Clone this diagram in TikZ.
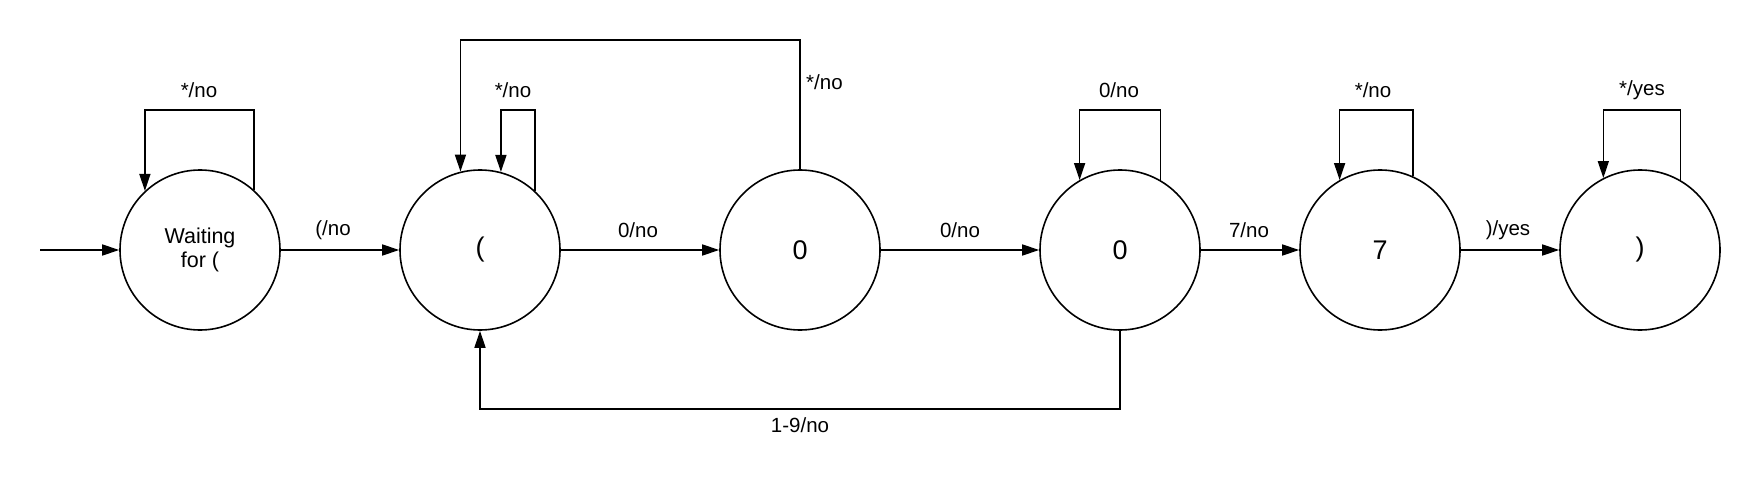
\documentclass[tikz,border=0pt]{standalone}
\usepackage{fontspec}
\setmainfont{Liberation Sans}
\usetikzlibrary{arrows.meta}
\begin{document}
\begin{tikzpicture}[x=1pt,y=-1pt,
  state/.style={circle,draw,line width=1.6pt,minimum size=160pt,inner sep=0pt,font=\fontsize{27}{30}\selectfont},
  wstate/.style={state,font=\fontsize{21.5}{24}\selectfont,align=center},
  arr/.style={line width=1.6pt,-{Triangle[length=17pt,width=11pt]}},
  lbl/.style={inner sep=0pt,font=\fontsize{20.5}{24}\selectfont}]
\useasboundingbox (0,0) rectangle (1760,481);
\node[wstate] (s1) at (200,250) {Waiting\\for (};
\node[state] (s2) at (480,250) {(};
\node[state] (s3) at (800,250) {0};
\node[state] (s4) at (1120,250) {0};
\node[state] (s5) at (1380,250) {7};
\node[state] (s6) at (1640,250) {)};
\coordinate (start) at (40,250);
\coordinate (top) at (0,110);
\coordinate (top2) at (0,40);
\coordinate (bot) at (0,409);
% straight transitions
\draw[arr] (start) -- (s1);
\draw[arr] (s1) -- (s2);
\draw[arr] (s2) -- (s3);
\draw[arr] (s3) -- (s4);
\draw[arr] (s4) -- (s5);
\draw[arr] (s5) -- (s6);
% self loops
\draw[arr] (s1.48.5) -- (s1.48.5 |- top) -- (s1.133.4 |- top) -- (s1.133.4);
\draw[arr] (s2.47.5) -- (s2.47.5 |- top) -- (s2.75.5 |- top) -- (s2.75.5);
\draw[arr] (s4.60) -- (s4.60 |- top) -- (s4.120 |- top) -- (s4.120);
\draw[arr] (s5.66.4) -- (s5.66.4 |- top) -- (s5.120.8 |- top) -- (s5.120.8);
\draw[arr] (s6.60) -- (s6.60 |- top) -- (s6.117.5 |- top) -- (s6.117.5);
% back edges
\draw[arr] (s3.north) -- (s3.north |- top2) -- (s2.104.5 |- top2) -- (s2.104.5);
\draw[arr] (s4.south) -- (s4.south |- bot) -- (s2.south |- bot) -- (s2.south);
% labels
\node[lbl] (l1) at (199,90) {*/no};
\node[lbl] (l2) at (333,230) {(/no};
\node[lbl] (l3) at (513,90) {*/no};
\node[lbl,anchor=west] (l4) at (806,82) {*/no};
\node[lbl] (l5) at (638,230) {0/no};
\node[lbl] (l6) at (960,230) {0/no};
\node[lbl] (l7) at (1119,90) {0/no};
\node[lbl] (l8) at (1249,230) {7/no};
\node[lbl] (l9) at (1373,90) {*/no};
\node[lbl] (l10) at (1508,230) {)/yes};
\node[lbl] (l11) at (1642,90) {*/yes};
\node[lbl] (l12) at (800,425) {1-9/no};
\end{tikzpicture}
\end{document}
